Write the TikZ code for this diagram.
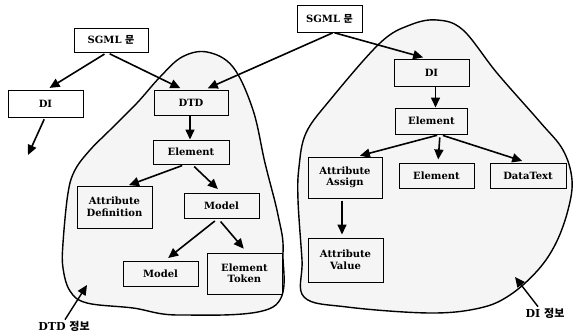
\documentclass[tikz,border=0pt]{standalone}
\usepackage{fontspec}
\setmainfont{DejaVu Serif}
\newfontfamily\kor{Noto Sans CJK KR}
\usetikzlibrary{arrows.meta}
\tikzset{
  box/.style={draw, line width=1pt, minimum width=75pt, minimum height=25pt, align=center, inner sep=1pt, font=\fontsize{10}{11.5}\selectfont\bfseries},
  arr/.style={line width=1.6pt, -{Triangle[length=10pt,width=9pt]}},
  blob/.style={line width=1.4pt, fill=black!4},
  lbl/.style={font=\fontsize{11}{12}\selectfont\bfseries, inner sep=1pt}
}
\begin{document}
\begin{tikzpicture}[x=1pt,y=-1pt]
\useasboundingbox (0,0) rectangle (573,333);
% blobs
\draw[blob] plot[smooth cycle, tension=0.6] coordinates {(207,52) (233,67) (253,110) (265,163) (278,215) (283,253) (273,307) (180,315) (133,308) (87,303) (70,291) (63,268) (63,243) (68,193) (75,170) (90,150) (110,130) (137,103) (160,77) (182,57)};
\draw[blob] plot[smooth cycle, tension=0.6] coordinates {(437,20) (463,30) (497,73) (540,122) (563,150) (572,180) (568,210) (556,243) (538,270) (510,295) (480,308) (430,313) (347,307) (304,297) (302,260) (298,200) (299,167) (306,133) (330,100) (380,43) (410,25)};
% boxes
\node[box, minimum width=74pt, minimum height=24pt] (s1) at (111,40) {SGML {\kor 문}};
\node[box, minimum width=65pt, minimum height=27pt] (s2) at (329.5,18.5) {SGML {\kor 문}};
\node[box, minimum height=27pt] (di1) at (45.5,103.5) {DI};
\node[box, minimum width=74pt] (dtd) at (191,102.5) {DTD};
\node[box, minimum width=76pt, minimum height=24pt] (el1) at (191,152) {Element};
\node[box, minimum height=42pt] (ad) at (114.5,207) {Attribute\\Definition};
\node[box] (mo1) at (221.5,205.5) {Model};
\node[box] (mo2) at (160.5,273.5) {Model};
\node[box, minimum height=41pt] (et) at (244.5,273.5) {Element\\Token};
\node[box, minimum height=27pt] (di2) at (431.5,72.5) {DI};
\node[box, minimum width=72pt, minimum height=26pt] (el2) at (431.5,121) {Element};
\node[box, minimum width=74pt, minimum height=41pt] (aa) at (345,177.5) {Attribute\\Assign};
\node[box, minimum width=75pt] (el3) at (436.5,175.5) {Element};
\node[box, minimum width=76pt] (dt) at (528,175.5) {DataText};
\node[box, minimum height=44pt] (av) at (345.5,260) {Attribute\\Value};
\node[lbl] (l1) at (64,326) {DTD {\kor\bfseries 정보}};
\node[lbl] (l2) at (545,313) {DI {\kor\bfseries 정보}};
\coordinate (d1end) at (28,155);
\coordinate (l1end) at (87,285);
\coordinate (l2end) at (515,277);
% arrows
\draw[arr, shorten <=3pt, shorten >=3pt] ([xshift=-4pt]s1.south) -- ([xshift=1.5pt]di1.north);
\draw[arr, shorten <=3pt, shorten >=3pt] ([xshift=-4pt]s1.south) -- ([xshift=-8pt]dtd.north);
\draw[arr, shorten <=1pt, shorten >=3pt] ([xshift=4pt]s2.south) -- ([xshift=14pt]dtd.north);
\draw[arr, shorten <=1pt, shorten >=4pt] ([xshift=4pt]s2.south) -- ([xshift=-4.5pt]di2.north);
\draw[arr, shorten <=2pt] ([xshift=-0.5pt]di1.south) -- (d1end);
\draw[arr] ([xshift=-1pt]dtd.south) -- ([xshift=-1pt]el1.north);
\draw[arr, shorten <=3pt, shorten >=1pt] ([xshift=-6pt]el1.south) -- ([xshift=13.5pt]ad.north);
\draw[arr, shorten <=3pt, shorten >=5pt] ([xshift=1pt]el1.south) -- (mo1.north);
\draw[arr, shorten <=4pt, shorten >=4pt] ([xshift=-3.5pt]mo1.south) -- ([xshift=4.5pt]mo2.north);
\draw[arr, shorten <=4pt, shorten >=5pt] ([xshift=-3.5pt]mo1.south) -- ([xshift=2.5pt]et.north);
\draw[arr] ([xshift=4pt]di2.south) -- ([xshift=4pt]el2.north);
\draw[arr, shorten <=3pt, shorten >=3pt] ([xshift=8.5pt]el2.south) -- ([xshift=12pt]aa.north);
\draw[arr, shorten <=3pt, shorten >=3pt] ([xshift=8.5pt]el2.south) -- ([xshift=1.5pt]el3.north);
\draw[arr, shorten <=3pt, shorten >=5pt] ([xshift=8.5pt]el2.south) -- ([xshift=-1pt]dt.north);
\draw[arr, shorten <=2pt, shorten >=3pt] ([xshift=-3pt]aa.south) -- ([xshift=-3.5pt]av.north);
\draw[arr, line width=1.4pt] ([xshift=1pt]l1.north) -- (l1end);
\draw[arr, line width=1.4pt] ([xshift=-7pt]l2.north) -- (l2end);
\end{tikzpicture}
\end{document}
